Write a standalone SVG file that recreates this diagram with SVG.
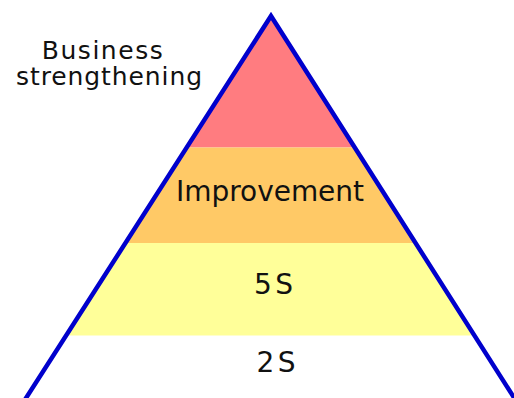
<svg xmlns="http://www.w3.org/2000/svg" width="514" height="398" viewBox="0 0 514 398">
  <style>
    .lbl { font-family: "DejaVu Sans", "Noto Sans", sans-serif; fill: #111111; text-anchor: middle; }
    .outline { fill: none; stroke: #0000CC; stroke-width: 4.5; stroke-linejoin: miter; }
  </style>
  <rect width="514" height="398" fill="#FFFFFF"/>

  <!-- pyramid tiers -->
  <g id="tier-top">
    <polygon points="271,16 354.8,147.5 186.7,147.5" fill="#FF7C80"/>
  </g>
  <g id="tier-improvement">
    <polygon points="186.7,147.5 354.8,147.5 415.6,243 125.5,243" fill="#FFC966"/>
    <text class="lbl" x="270" y="201" font-size="28" textLength="188">Improvement</text>
  </g>
  <g id="tier-5s">
    <polygon points="125.5,243 415.6,243 474.5,335.5 66.2,335.5" fill="#FFFF99"/>
    <text class="lbl" x="273.5" y="294" font-size="28" textLength="39">5 S</text>
  </g>
  <g id="tier-2s">
    <text class="lbl" x="276" y="372" font-size="28" textLength="39">2 S</text>
  </g>

  <!-- outline of the pyramid -->
  <g id="outline">
    <polyline class="outline" points="23.5,402 271,16 516.8,402"/>
  </g>

  <!-- label beside the apex -->
  <g id="label-business">
    <text class="lbl" font-size="25">
      <tspan x="107" y="59" textLength="121">Business</tspan>
      <tspan x="109" y="85" textLength="186">strengthening</tspan>
    </text>
  </g>
</svg>
